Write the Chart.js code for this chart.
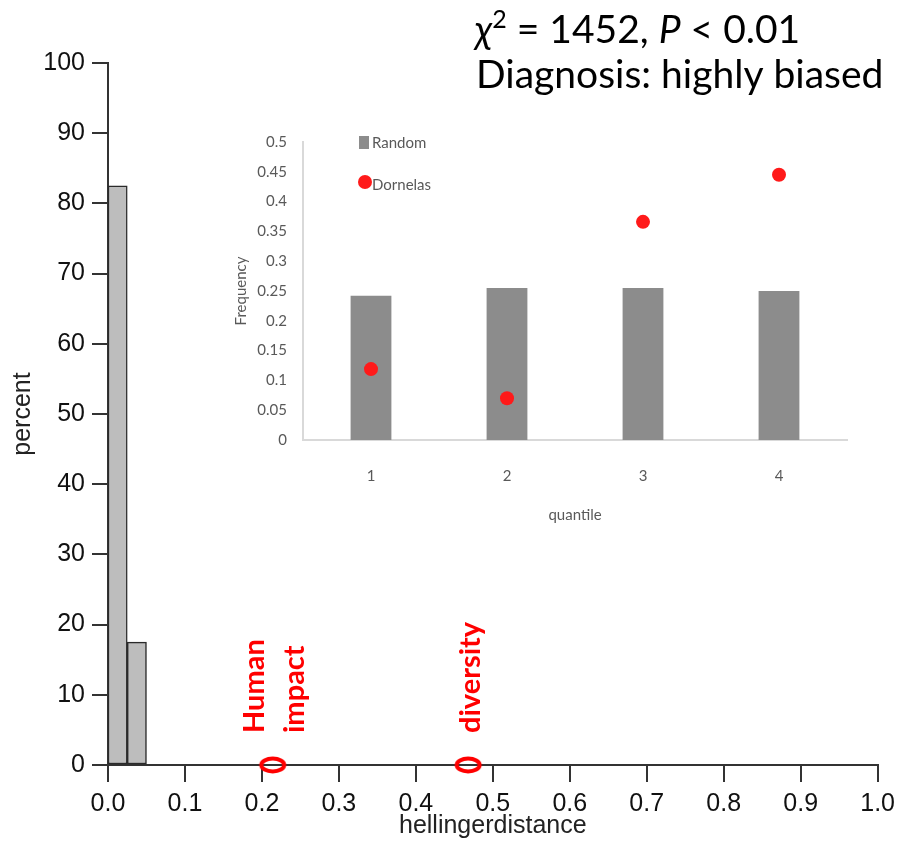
<!DOCTYPE html>
<html><head><meta charset="utf-8">
<script src="https://cdn.jsdelivr.net/npm/chart.js@4.4.0/dist/chart.umd.min.js"></script>
<style>
html,body{margin:0;padding:0;background:#fff;}
#wrap{position:relative;width:902px;height:843px;overflow:hidden;}
#main{position:absolute;left:0;top:0;}
#inset{position:absolute;left:220px;top:120px;}
</style></head><body>
<div id="wrap">
<canvas id="main" width="902" height="843"></canvas>
<canvas id="inset" width="650" height="420"></canvas>
</div>
<script>
// ---- data ----
const binCenters = [0.0125, 0.0375];
const binPercent = [82.5, 17.5];
const markerValues = [0.214, 0.468];
const markerLabels = [['Human', 'impact'], ['diversity']];
const quantiles = ['1', '2', '3', '4'];
const randomFreq = [0.242, 0.255, 0.255, 0.25];
const dornelasFreq = [0.119, 0.07, 0.366, 0.445];
const titleLine2 = 'Diagnosis: highly biased';

// ---- helpers ----
function ellipseImg() {
  const c = document.createElement('canvas');
  c.width = 34; c.height = 24;
  const g = c.getContext('2d');
  g.strokeStyle = '#ff0000';
  g.lineWidth = 4;
  g.beginPath();
  g.ellipse(17, 12, 11.5, 6.5, 0, 0, Math.PI * 2);
  g.stroke();
  return c;
}
const ell = ellipseImg();
const SANS = "'Liberation Sans', Arial, sans-serif";
const LATO = "Lato, 'Open Sans', sans-serif";

const mainPlugin = {
  id: 'mainText',
  afterDraw(chart) {
    const ctx = chart.ctx;
    const xs = chart.scales.x, ys = chart.scales.y;
    // rotated red labels above markers
    ctx.save();
    ctx.fillStyle = '#ff0000';
    ctx.font = "bold 29px " + LATO;
    ctx.textAlign = 'left';
    ctx.textBaseline = 'middle';
    markerValues.forEach((v, i) => {
      const px = xs.getPixelForValue(v);
      const py = ys.getPixelForValue(0) - 32;
      const lines = markerLabels[i];
      const n = lines.length;
      lines.forEach((t, j) => {
        const x = px + 2 + (j - (n - 1) / 2) * 40;
        ctx.save();
        ctx.translate(x, py);
        ctx.rotate(-Math.PI / 2);
        ctx.fillText(t, 0, 0);
        ctx.restore();
      });
    });
    ctx.restore();
    // statistics text
    ctx.save();
    ctx.fillStyle = '#000';
    ctx.textBaseline = 'alphabetic';
    ctx.textAlign = 'left';
    let x = 475, y = 43;
    const parts = [
      ['italic 39px ' + LATO, '\u03C7', 0],
      ['25px ' + LATO, '2', -15],
      ['39px ' + LATO, ' = 1452, ', 0],
      ['italic 39px ' + LATO, 'P', 0],
      ['39px ' + LATO, ' < 0.01', 0]
    ];
    parts.forEach(p => {
      ctx.font = p[0];
      ctx.fillText(p[1], x, y + p[2]);
      x += ctx.measureText(p[1]).width;
    });
    ctx.font = '39px ' + LATO;
    ctx.fillText(titleLine2, 476, 88);
    ctx.restore();
  }
};

new Chart(document.getElementById('main'), {
  type: 'bar',
  data: {
    datasets: [
      {
        type: 'bar',
        data: binCenters.map((x, i) => ({ x: x, y: binPercent[i] })),
        backgroundColor: '#bdbdbd',
        borderColor: '#2a2a2a',
        borderWidth: 1.5,
        borderSkipped: false,
        barPercentage: 1,
        categoryPercentage: 1,
        grouped: false,
        order: 1
      },
      {
        type: 'scatter',
        data: markerValues.map(x => ({ x: x, y: 0 })),
        pointStyle: ell,
        pointRadius: 12,
        clip: false,
        order: 0
      }
    ]
  },
  plugins: [mainPlugin],
  options: {
    responsive: false,
    animation: false,
    layout: { padding: { top: 63, right: 23, left: 0, bottom: 0 } },
    plugins: { legend: { display: false }, tooltip: { enabled: false } },
    scales: {
      x: {
        type: 'linear', min: 0, max: 1, offset: false,
        ticks: { stepSize: 0.1, callback: v => Number(v).toFixed(1), font: { size: 25, family: SANS }, color: '#111', padding: 7, maxRotation: 0, autoSkip: false },
        grid: { offset: false, drawOnChartArea: false, tickLength: 17, color: '#333', lineWidth: 2 },
        border: { color: '#333', width: 2 },
        title: { display: true, text: 'hellingerdistance', font: { size: 25, family: SANS }, color: '#222', padding: { top: 0, bottom: 2 } },
        afterFit: s => { s.height = 78; }
      },
      y: {
        min: 0, max: 100,
        ticks: { stepSize: 10, font: { size: 25, family: SANS }, color: '#111', padding: 7 },
        grid: { offset: false, drawOnChartArea: false, tickLength: 16, color: '#333', lineWidth: 2 },
        border: { color: '#333', width: 2 },
        title: { display: true, text: 'percent', font: { size: 25, family: SANS }, color: '#222', padding: { top: 8, bottom: 0 } },
        afterFit: s => { s.width = 108; }
      }
    }
  }
});

const insetLegend = {
  id: 'insetLegend',
  afterDraw(chart) {
    const ctx = chart.ctx;
    const ds = chart.data.datasets;
    ctx.save();
    ctx.font = '15px ' + LATO;
    ctx.textBaseline = 'middle';
    ctx.textAlign = 'left';
    // Random (bar)
    ctx.fillStyle = ds[0].backgroundColor;
    ctx.fillRect(139, 16, 10, 13);
    ctx.fillStyle = '#595959';
    ctx.fillText(ds[0].label, 152, 23);
    // Dornelas (point)
    ctx.fillStyle = ds[1].pointBackgroundColor;
    ctx.beginPath();
    ctx.arc(145, 62, 7, 0, Math.PI * 2);
    ctx.fill();
    ctx.fillStyle = '#595959';
    ctx.fillText(ds[1].label, 152, 65);
    ctx.restore();
  }
};

new Chart(document.getElementById('inset'), {
  type: 'bar',
  data: {
    labels: quantiles,
    datasets: [
      {
        type: 'bar', label: 'Random', data: randomFreq,
        backgroundColor: '#8c8c8c', barPercentage: 0.3, categoryPercentage: 1,
        order: 1
      },
      {
        type: 'line', label: 'Dornelas', data: dornelasFreq,
        showLine: false, pointRadius: 7, pointBackgroundColor: '#ff1a1a',
        pointBorderWidth: 0, borderColor: '#ff1a1a', backgroundColor: '#ff1a1a',
        order: 0
      }
    ]
  },
  plugins: [insetLegend],
  options: {
    responsive: false,
    animation: false,
    layout: { padding: { top: 22, right: 23, left: 0, bottom: 0 } },
    plugins: { legend: { display: false }, tooltip: { enabled: false } },
    scales: {
      x: {
        type: 'category', offset: true,
        grid: { display: false },
        border: { color: '#d9d9d9', width: 2 },
        ticks: { font: { size: 15, family: LATO }, color: '#595959', padding: 19 },
        title: { display: true, text: 'quantile', font: { size: 15, family: LATO }, color: '#595959', padding: { top: 0, bottom: 16 } },
        afterFit: s => { s.height = 100; }
      },
      y: {
        min: 0, max: 0.5,
        grid: { display: false },
        border: { color: '#d9d9d9', width: 2 },
        ticks: { stepSize: 0.05, callback: v => String(Math.round(v * 100) / 100), font: { size: 15, family: LATO }, color: '#595959', padding: 8 },
        title: { display: true, text: 'Frequency', font: { size: 15, family: LATO }, color: '#595959', padding: { top: 12, bottom: 0 } },
        afterFit: s => { s.width = 83; }
      }
    }
  }
});
</script>
</body></html>
